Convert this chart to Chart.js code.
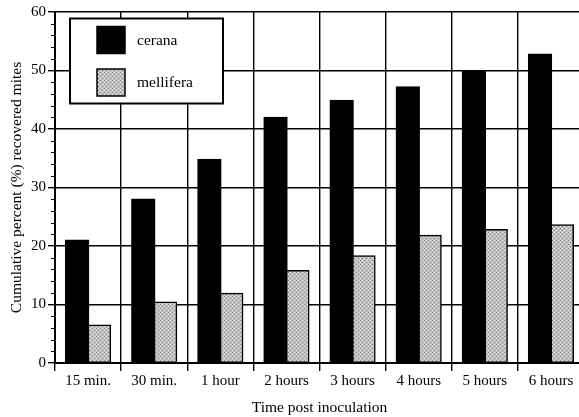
<!DOCTYPE html>
<html>
<head>
<meta charset="utf-8">
<script src="https://cdn.jsdelivr.net/npm/chart.js@4.4.1/dist/chart.umd.min.js"></script>
<style>
  html, body { margin: 0; padding: 0; background: #fff; overflow: hidden; }
  #wrap { width: 590px; height: 417px; }
</style>
</head>
<body>
<div id="wrap"><canvas id="chart" width="590" height="417"></canvas></div>
<script>
// Data
const categories = ['15 min.', '30 min.', '1 hour', '2 hours', '3 hours', '4 hours', '5 hours', '6 hours'];
const cerana = [21, 28, 34.8, 42, 44.9, 47.2, 50, 52.8];
const mellifera = [6.5, 10.4, 11.9, 15.8, 18.3, 21.8, 22.8, 23.6];
const yTicks = [0, 10, 20, 30, 40, 50, 60];

const serif = '"Liberation Serif", "Times New Roman", serif';

// stippled grey fill like the printed figure
function stipple() {
    const c = document.createElement('canvas');
    c.width = 4; c.height = 4;
    const g = c.getContext('2d');
    g.fillStyle = '#c2c2c2';
    g.fillRect(0, 0, 4, 4);
    g.fillStyle = '#8e8e8e';
    g.fillRect(0, 0, 1, 1);
    g.fillRect(2, 2, 1, 1);
    g.fillStyle = '#dcdcdc';
    g.fillRect(2, 0, 1, 1);
    g.fillRect(0, 2, 1, 1);
    return g.createPattern(c, 'repeat');
}
const grey = stipple();

// small ticks every 2 units on the y axis
const minorTicks = {
    id: 'minorTicks',
    afterDraw(chart) {
        const y = chart.scales.y, ctx = chart.ctx, left = chart.chartArea.left;
        ctx.save();
        ctx.strokeStyle = '#000';
        ctx.lineWidth = 1;
        for (let v = y.min; v <= y.max; v += 2) {
            if (v % 10 === 0) continue;
            const py = Math.round(y.getPixelForValue(v)) + 0.5;
            ctx.beginPath();
            ctx.moveTo(left - 4, py);
            ctx.lineTo(left, py);
            ctx.stroke();
        }
        ctx.restore();
    }
};

// boxed legend inside the plot, top left
const boxLegend = {
    id: 'boxLegend',
    afterDraw(chart) {
        const ctx = chart.ctx, a = chart.chartArea;
        const x = a.left + 15, y = a.top + 6.5, w = 153, h = 85;
        ctx.save();
        ctx.fillStyle = '#fff';
        ctx.fillRect(x, y, w, h);
        ctx.strokeStyle = '#000';
        ctx.lineWidth = 2;
        ctx.strokeRect(x, y, w, h);
        ctx.font = '15.5px ' + serif;
        ctx.textBaseline = 'middle';
        chart.data.datasets.forEach((ds, i) => {
            const sy = y + 8 + i * 42.5;
            ctx.fillStyle = ds.backgroundColor;
            ctx.fillRect(x + 27, sy, 28, 27);
            ctx.lineWidth = 1.5;
            ctx.strokeRect(x + 27, sy, 28, 27);
            ctx.fillStyle = '#000';
            ctx.fillText(ds.label, x + 67, sy + 14);
        });
        ctx.restore();
    }
};

new Chart(document.getElementById('chart'), {
    type: 'bar',
    data: {
        labels: categories,
        datasets: [
            { label: 'cerana', data: cerana, backgroundColor: '#000', borderColor: '#000', borderWidth: 1.5, borderSkipped: false },
            { label: 'mellifera', data: mellifera, backgroundColor: grey, borderColor: '#000', borderWidth: 1.5, borderSkipped: false }
        ]
    },
    options: {
        responsive: false,
        animation: false,
        layout: { padding: { top: 12, right: 6, left: 0, bottom: 0 } },
        datasets: { bar: { categoryPercentage: 0.66, barPercentage: 1.06, inflateAmount: 0.6 } },
        plugins: { legend: { display: false }, tooltip: { enabled: false } },
        scales: {
            x: {
                grid: { color: '#000', lineWidth: 1.4, offset: true, tickLength: 8, tickWidth: 1.4 },
                border: { color: '#000', width: 2 },
                ticks: { color: '#000', font: { family: serif, size: 15 }, padding: 1, maxRotation: 0 },
                title: { display: true, text: 'Time post inoculation', color: '#000', font: { family: serif, size: 15.5 }, padding: 0 },
                afterFit(s) { s.height = 54; }
            },
            y: {
                min: 0, max: 60,
                afterBuildTicks(s) { s.ticks = yTicks.map(v => ({ value: v })); },
                grid: { color: '#000', lineWidth: 1.4, tickLength: 7, tickWidth: 1.4 },
                border: { color: '#000', width: 2 },
                ticks: { color: '#000', font: { family: serif, size: 15 }, padding: 2 },
                title: { display: true, text: 'Cumulative percent (%) recovered mites', color: '#000', font: { family: serif, size: 15.5 }, padding: { top: 8, bottom: 0 } },
                afterFit(s) { s.width = 55; }
            }
        }
    },
    plugins: [minorTicks, boxLegend]
});
</script>
</body>
</html>
